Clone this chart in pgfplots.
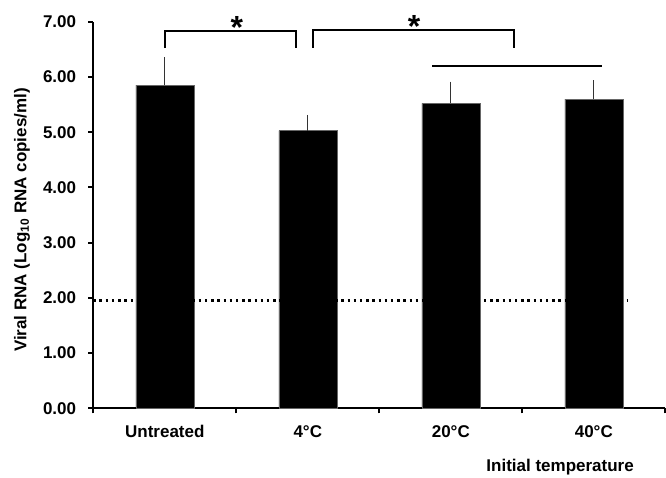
\documentclass[border=0pt]{standalone}
\usepackage{fontspec}
\setmainfont{Liberation Sans}
\usepackage{pgfplots}
\pgfplotsset{compat=1.18}
\begin{document}
\fontsize{17}{20}\selectfont\bfseries
\begin{tikzpicture}[x=1pt,y=1pt]
\useasboundingbox (0,0) rectangle (666,477);
\begin{axis}[
  at={(93.3pt,68.7pt)}, anchor=south west,
  scale only axis, width=572pt, height=386.6pt,
  xmin=-0.5, xmax=3.5, ymin=0, ymax=7,
  clip=false,
  axis x line*=bottom, axis y line*=left,
  axis line style={line width=2pt, -},
  xtick={0,1,2,3}, xticklabels={Untreated,4°C,20°C,40°C},
  major x tick style={draw=none},
  minor xtick={-0.5,0.5,1.5,2.5,3.5},
  ytick={0,1,2,3,4,5,6,7},
  tick align=outside, tick style={line width=2pt, black},
  major tick length=5pt, minor tick length=5pt,
  /pgf/number format/assume math mode=true,
  yticklabel={\pgfmathprintnumber[fixed,fixed zerofill,precision=2]{\tick}},
  ticklabel style={font=\fontsize{17}{20}\selectfont\bfseries},
  xticklabel style={anchor=base, yshift=-24pt},
  yticklabel style={inner sep=0pt, xshift=-12pt},
  ylabel={Viral RNA (Log\textsubscript{10} RNA copies/ml)},
  ylabel style={font=\fontsize{17}{20}\selectfont\bfseries, at={(axis description cs:-0.1247,0.487)}, anchor=center},
]
\addplot[ybar, bar width=0.406, fill=black, draw=black!60, line width=0.4pt,
  error bars/.cd, y dir=plus, y explicit,
  error bar style={line width=1.2pt, black!80},
  error mark options={line width=1.2pt, mark size=3pt, black!80}]
  coordinates {(0,5.85) +- (0,0.45) (1,5.03) +- (0,0.23) (2,5.52) +- (0,0.34) (3,5.60) +- (0,0.29)};
\addplot[line width=2.3pt, black, dash pattern=on 2.5pt off 3.7pt] coordinates {(-0.5,1.95) (3.24,1.95)};
\addplot[line width=2pt, black] coordinates {(1.87,6.19) (3.06,6.19)};
\addplot[line width=2pt, black] coordinates {(0.0,6.52) (0.0,6.84) (0.918,6.84) (0.918,6.52)};
\addplot[line width=2pt, black] coordinates {(1.034,6.53) (1.034,6.85) (2.44,6.85) (2.44,6.53)};
\node[font=\fontsize{32}{32}\selectfont\bfseries, inner sep=0pt] at (axis cs:0.503,6.90) {*};
\node[font=\fontsize{32}{32}\selectfont\bfseries, inner sep=0pt] at (axis cs:1.743,6.92) {*};
\end{axis}
\node[font=\fontsize{17}{20}\selectfont\bfseries, anchor=east, inner sep=0pt] at (634,10) {Initial temperature};
\end{tikzpicture}
\end{document}
